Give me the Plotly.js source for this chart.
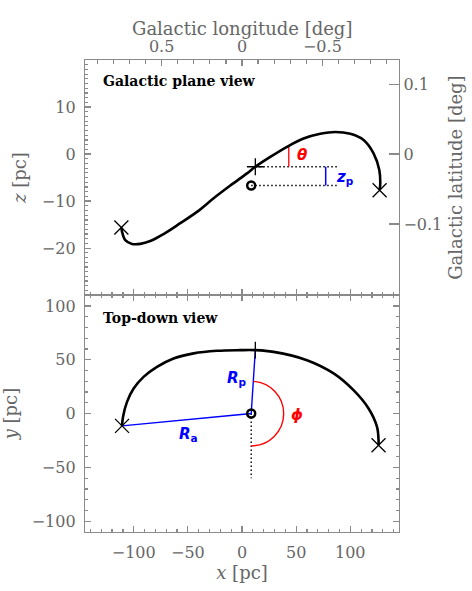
<!DOCTYPE html>
<html>
<head>
<meta charset="utf-8">
<script src="https://cdn.plot.ly/plotly-3.0.1.min.js"></script>
<style>
  html, body { margin: 0; padding: 0; background: #fff; }
  #chart { width: 472px; height: 591px; }
</style>
</head>
<body>
<div id="chart"></div>
<script>
// orbit seen in the Galactic plane (x, z) [pc]
var planeX = [-111.4, -110.8, -107.8, -101.6, -93.9, -84.7, -72.4, -57.0, -41.6, -26.2, -10.8, 4.6, 12.3, 26.1, 41.6, 56.9, 72.3, 86.1, 100.0, 112.3, 121.5, 126.8, 127.7, 127.1];
var planeZ = [-15.6, -16.5, -18.3, -19.1, -19.1, -18.5, -17.0, -14.7, -12.3, -9.4, -6.7, -4.1, -2.7, -0.6, 1.55, 3.3, 4.3, 4.7, 4.3, 3.0, 0.15, -3.4, -6.2, -7.7];

// same orbit seen from above (x, y) [pc]
var topX = [-110.8, -109.9, -106.2, -100.1, -90.9, -78.5, -63.2, -44.7, -23.1, -1.6, 12.3, 29.2, 60.0, 84.6, 103.0, 116.9, 124.7, 126.1, 126.1];
var topY = [-11.4, -3.1, 10.9, 23.3, 34.1, 43.4, 51.2, 55.9, 58.3, 58.9, 58.9, 57.3, 49.6, 37.3, 21.7, 4.7, -12.4, -24.7, -29.4];

// Sgr A* and pericentre
var centreX = 8.5, centreY = 0, centreZ = -6.7;
var periX = 12.3, periY = 58.9, periZ = -2.7;
var thetaX = 43.2, thetaZ = 1.55;   // red theta bar up to the orbit
var zpX = 77.3, dotEndX = 87.9;     // blue z_p bar, end of dotted guides
var phiR = 30, downY = -60;         // phi arc radius, dotted line to -y

// tick labels
var zTicks = [-20, -10, 0, 10];
var latTicks = [-0.1, 0, 0.1];
var pcPerDeg = 148.5;

var n = planeX.length, m = topX.length;
var grey = '#8a8a8a';
var tickFont = {family: 'DejaVu Serif', size: 16, color: '#666'};
var titleFont = {family: 'DejaVu Serif', size: 18, color: '#666'};
var dots = '1.5px,2.5px';

function lin(x, y, xa, ya, color, width, dash) {
    return {x: x, y: y, xaxis: xa, yaxis: ya, mode: 'lines', type: 'scatter',
        line: {color: color, width: width, dash: dash || 'solid'},
        showlegend: false, hoverinfo: 'skip'};
}
function mk(x, y, xa, ya, symbol, size, lw) {
    return {x: x, y: y, xaxis: xa, yaxis: ya, mode: 'markers', type: 'scatter',
        marker: {symbol: symbol, size: size, color: 'black', line: {color: 'black', width: lw}},
        showlegend: false, hoverinfo: 'skip'};
}

var traces = [];
// --- Galactic plane view (top panel) ---
traces.push(lin([periX, dotEndX], [periZ, periZ], 'x2', 'y2', 'black', 1.4, dots));
traces.push(lin([centreX, dotEndX], [centreZ, centreZ], 'x2', 'y2', 'black', 1.4, dots));
traces.push(lin([thetaX, thetaX], [periZ, thetaZ], 'x2', 'y2', 'red', 1.3));
traces.push(lin([zpX, zpX], [periZ, centreZ], 'x2', 'y2', 'blue', 1.5));
var orbit1 = lin(planeX, planeZ, 'x2', 'y2', 'black', 2.6);
orbit1.line.shape = 'spline';
traces.push(orbit1);
traces.push(mk([planeX[0], planeX[n - 1]], [planeZ[0], planeZ[n - 1]], 'x2', 'y2', 'x-thin', 14, 1.3));
traces.push(mk([periX], [periZ], 'x2', 'y2', 'cross-thin', 12, 1.3));
traces.push(mk([centreX], [centreZ], 'x2', 'y2', 'circle-open', 8, 2.5));
// empty traces so the longitude / latitude axes get drawn
traces.push({x: [], y: [], xaxis: 'x3', yaxis: 'y2', type: 'scatter', showlegend: false});
traces.push({x: [], y: [], xaxis: 'x2', yaxis: 'y3', type: 'scatter', showlegend: false});

// --- Top-down view (bottom panel) ---
traces.push(lin([centreX, centreX], [centreY, downY], 'x', 'y', 'black', 1.4, dots));
traces.push(lin([topX[0], centreX, periX], [topY[0], centreY, periY], 'x', 'y', 'blue', 1.4));
var orbit2 = lin(topX, topY, 'x', 'y', 'black', 2.6);
orbit2.line.shape = 'spline';
traces.push(orbit2);
traces.push(mk([topX[0], topX[m - 1]], [topY[0], topY[m - 1]], 'x', 'y', 'x-thin', 14, 1.3));
traces.push(mk([periX], [periY], 'x', 'y', 'cross-thin', 12, 1.3));
traces.push(mk([centreX], [centreY], 'x', 'y', 'circle-open', 8, 2.5));

// phi arc: from the pericentre direction clockwise down to -y
var a0x = centreX + phiR * 0.0645, a0y = centreY + phiR * 0.998;
var arcPath = 'M ' + a0x + ',' + a0y +
    ' C ' + (a0x + 15.8) + ',' + (a0y - 1.0) + ' ' + (centreX + phiR) + ',' + (centreY + 15.8) + ' ' + (centreX + phiR) + ',' + centreY +
    ' C ' + (centreX + phiR) + ',' + (centreY - 16.6) + ' ' + (centreX + 16.6) + ',' + (centreY - phiR) + ' ' + centreX + ',' + (centreY - phiR);

var common = {
    showline: true, linecolor: grey, linewidth: 1.2,
    ticks: 'inside', tickcolor: grey, ticklen: 6, tickwidth: 1.2,
    tickfont: tickFont, showgrid: false, zeroline: false
};
function ax(extra) { return Object.assign({}, common, extra); }

var layout = {
    width: 472, height: 591,
    margin: {l: 85, r: 73, t: 60, b: 59},
    paper_bgcolor: 'white', plot_bgcolor: 'white',
    showlegend: false,
    xaxis: ax({anchor: 'y', range: [-145, 145], dtick: 50, mirror: 'ticks', ticklabelstandoff: 6,
        minor: {dtick: 10, ticklen: 3, tickcolor: grey, ticks: 'inside'},
        title: {text: '<i>x</i> [pc]', font: titleFont, standoff: 4}}),
    yaxis: ax({domain: [0, 0.5018], anchor: 'x', range: [-110, 110], dtick: 50, mirror: 'ticks', ticklabelstandoff: 5,
        minor: {dtick: 10, ticklen: 3, tickcolor: grey, ticks: 'inside'},
        title: {text: '<i>y</i> [pc]', font: titleFont, standoff: 10}}),
    xaxis2: ax({anchor: 'y2', range: [-145, 145], dtick: 50, showticklabels: false,
        minor: {dtick: 10, ticklen: 3, tickcolor: grey, ticks: 'inside'}}),
    yaxis2: ax({domain: [0.5018, 1], anchor: 'x2', range: [-30, 20], tickvals: zTicks, ticklabelstandoff: 5,
        minor: {dtick: 1, ticklen: 3, tickcolor: grey, ticks: 'inside'},
        title: {text: '<i>z</i> [pc]', font: titleFont, standoff: 10}}),
    xaxis3: ax({overlaying: 'x2', anchor: 'y2', side: 'top',
        range: [145 / pcPerDeg, -145 / pcPerDeg], dtick: 0.5,
        minor: {dtick: 0.1, ticklen: 4, tickcolor: grey, ticks: 'inside'}}),
    yaxis3: ax({overlaying: 'y2', anchor: 'x2', side: 'right',
        range: [-30 / pcPerDeg, 20 / pcPerDeg], tickvals: latTicks, ticklen: 10,
        title: {text: 'Galactic latitude [deg]', font: titleFont, standoff: 8}}),
    shapes: [
        {type: 'path', xref: 'x', yref: 'y', path: arcPath, line: {color: 'red', width: 1.4}}
    ],
    annotations: [
        {xref: 'paper', yref: 'paper', x: 0.5, y: 1.0657, yanchor: 'middle', showarrow: false,
            text: 'Galactic longitude [deg]', font: titleFont},
        {xref: 'x2', yref: 'y2', x: -130, y: 15.6, xanchor: 'left', showarrow: false,
            text: '<b>Galactic plane view</b>', font: {family: 'DejaVu Serif', size: 14, color: 'black'}},
        {xref: 'x', yref: 'y', x: -130, y: 89, xanchor: 'left', showarrow: false,
            text: '<b>Top-down view</b>', font: {family: 'DejaVu Serif', size: 14, color: 'black'}},
        {xref: 'x2', yref: 'y2', x: 55, y: -0.2, showarrow: false,
            text: '<b><i>θ</i></b>', font: {family: 'DejaVu Sans', size: 15, color: 'red'}},
        {xref: 'x2', yref: 'y2', x: 95.4, y: -5, showarrow: false,
            text: '<b><i>z</i><sub>p</sub></b>', font: {family: 'DejaVu Sans', size: 15, color: 'blue'}},
        {xref: 'x', yref: 'y', x: -4.3, y: 33, showarrow: false,
            text: '<b><i>R</i><sub>p</sub></b>', font: {family: 'DejaVu Sans', size: 15, color: 'blue'}},
        {xref: 'x', yref: 'y', x: -49.4, y: -19.1, showarrow: false,
            text: '<b><i>R</i><sub>a</sub></b>', font: {family: 'DejaVu Sans', size: 15, color: 'blue'}},
        {xref: 'x', yref: 'y', x: 50.8, y: -1.5, showarrow: false,
            text: '<b><i>ϕ</i></b>', font: {family: 'DejaVu Sans', size: 15, color: 'red'}}
    ]
};

Plotly.newPlot('chart', traces, layout, {staticPlot: true, displayModeBar: false});
</script>
</body>
</html>
